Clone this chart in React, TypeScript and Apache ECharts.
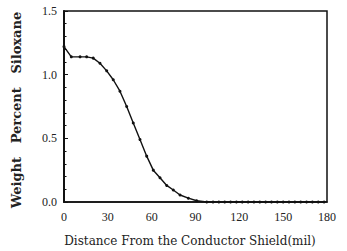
import React, { useEffect, useRef } from "react";
import * as echarts from "echarts";

const distance = [0, 5, 11, 15.5, 20, 24.6, 29.2, 33.7, 38.3, 42.9, 47.4, 52, 56.6, 61.1, 65.7, 70.3, 74.8, 79.4, 85.1, 90.8, 97.7, 102, 106, 110, 114, 118, 122, 126, 130, 134, 138, 142, 146, 150, 154, 158, 162, 166, 170, 174, 178];
const siloxane = [1.22, 1.14, 1.14, 1.14, 1.13, 1.09, 1.03, 0.96, 0.87, 0.75, 0.62, 0.49, 0.36, 0.25, 0.19, 0.13, 0.094, 0.055, 0.03, 0.01, 0.0, 0, 0, 0, 0, 0, 0, 0, 0, 0, 0, 0, 0, 0, 0, 0, 0, 0, 0, 0, 0];
const xTicks = [0, 30, 60, 90, 120, 150, 180];
const yTicks = [0, 0.5, 1.0, 1.5];
const yTitle = "Weight   Percent   Siloxane";
const xTitle = "Distance From the Conductor Shield(mil)";

export default function App() {
  const ref = useRef<HTMLDivElement>(null);
  useEffect(() => {
    const chart = echarts.init(ref.current!, null, { renderer: "svg" });
    const font = "'Liberation Serif', 'DejaVu Serif', serif";
    chart.setOption({
      animation: false,
      backgroundColor: "#fff",
      grid: {
        left: 64,
        right: 20,
        top: 11,
        bottom: 49,
        show: true,
        borderColor: "#111",
        borderWidth: 1.5,
      },
      xAxis: {
        type: "value",
        min: xTicks[0],
        max: xTicks[xTicks.length - 1],
        interval: 30,
        axisLine: { show: true, lineStyle: { color: "#111", width: 1.5 } },
        axisTick: { show: false },
        splitLine: { show: false },
        axisLabel: {
          color: "#222",
          fontFamily: font,
          fontSize: 12,
          margin: 9,
          formatter: (v: number) => (xTicks.includes(v) ? String(v) : ""),
        },
      },
      yAxis: {
        type: "value",
        min: yTicks[0],
        max: yTicks[yTicks.length - 1],
        interval: 0.5,
        axisLine: { show: true, lineStyle: { color: "#111", width: 2 } },
        axisTick: { show: true, inside: true, length: 4, lineStyle: { color: "#111" } },
        minorTick: { show: true, splitNumber: 5, length: 2.5, lineStyle: { color: "#111" } },
        splitLine: { show: false },
        axisLabel: {
          color: "#222",
          fontFamily: font,
          fontSize: 12,
          margin: 7,
          formatter: (v: number) => v.toFixed(1),
        },
      },
      graphic: [
        {
          type: "text",
          x: 16,
          y: 110,
          rotation: Math.PI / 2,
          style: {
            text: yTitle,
            fill: "#222",
            fontFamily: "'DejaVu Serif', serif",
            fontWeight: "bold",
            fontSize: 13,
            align: "center",
            verticalAlign: "middle",
          },
        },
        {
          type: "text",
          x: 190,
          y: 241,
          style: {
            text: xTitle,
            fill: "#222",
            fontFamily: "'DejaVu Serif', serif",
            fontSize: 12,
            align: "center",
            verticalAlign: "middle",
          },
        },
      ],
      series: [
        {
          type: "line",
          data: distance.map((d, i) => [d, siloxane[i]]),
          symbol: "circle",
          symbolSize: 3,
          showSymbol: true,
          lineStyle: { color: "#111", width: 1.4 },
          itemStyle: { color: "#111" },
          clip: false,
        },
      ],
    });
    return () => chart.dispose();
  }, []);
  return <div ref={ref} style={{ width: 347, height: 251, position: "absolute", left: 0, top: 0 }} />;
}
